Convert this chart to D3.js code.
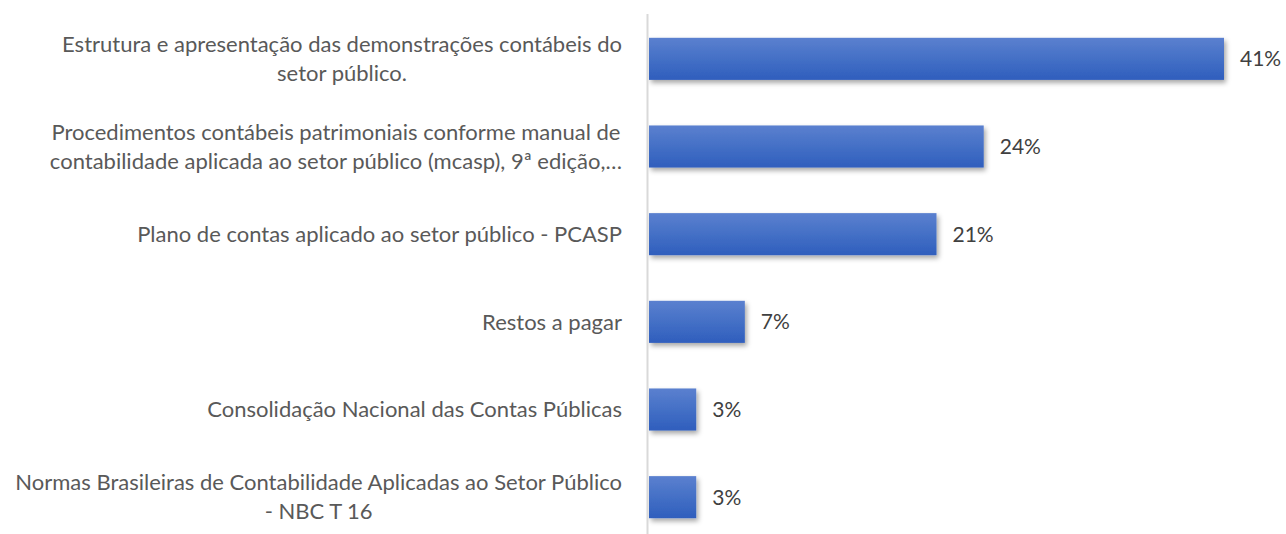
<!DOCTYPE html>
<html>
<head>
<meta charset="utf-8">
<script src="https://cdn.jsdelivr.net/npm/d3@7"></script>
<style>
  body { margin: 0; background: #fff; }
  svg { display: block; font-family: Lato, "Open Sans", sans-serif; }
</style>
</head>
<body>
<svg id="chart" width="1286" height="534"></svg>
<script>
// categories, wrapped as in the original (one entry per line)
const categories = [
    ["Estrutura e apresentação das demonstrações contábeis do", "setor público."],
    ["Procedimentos contábeis patrimoniais conforme manual de", "contabilidade aplicada ao setor público (mcasp), 9ª edição,…"],
    ["Plano de contas aplicado ao setor público - PCASP"],
    ["Restos a pagar"],
    ["Consolidação Nacional das Contas Públicas"],
    ["Normas Brasileiras de Contabilidade Aplicadas ao Setor Público", "- NBC T 16"]
];
const values = [0.414, 0.241, 0.207, 0.069, 0.034, 0.034];

const svg = d3.select("#chart");
const width = 1286, height = 534;
const x0 = 649;

const x = d3.scaleLinear().domain([0, 0.45]).range([x0, 1274]);
const y = d3.scaleBand()
    .domain(d3.range(categories.length))
    .range([15, 541])
    .paddingInner(0.52)
    .paddingOuter(0.26);

const defs = svg.append("defs");
const grad = defs.append("linearGradient")
    .attr("id", "barGrad")
    .attr("x1", 0).attr("y1", 0).attr("x2", 0).attr("y2", 1);
grad.append("stop").attr("offset", "0%").attr("stop-color", "#5b80cf");
grad.append("stop").attr("offset", "50%").attr("stop-color", "#4470c6");
grad.append("stop").attr("offset", "100%").attr("stop-color", "#2f5ebd");

const shadow = defs.append("filter")
    .attr("id", "shadow")
    .attr("x", "-10%").attr("y", "-20%")
    .attr("width", "130%").attr("height", "160%");
shadow.append("feDropShadow")
    .attr("dx", 2).attr("dy", 3)
    .attr("stdDeviation", 2.5)
    .attr("flood-color", "#000")
    .attr("flood-opacity", 0.35);

// bars
svg.selectAll(".bar")
    .data(values)
    .enter().append("rect")
    .attr("class", "bar")
    .attr("x", x0)
    .attr("y", (d, i) => y(i))
    .attr("width", d => x(d) - x0)
    .attr("height", y.bandwidth())
    .attr("fill", "url(#barGrad)")
    .attr("filter", "url(#shadow)");

// vertical axis line
svg.append("line")
    .attr("x1", x0 - 1.5).attr("x2", x0 - 1.5)
    .attr("y1", 14).attr("y2", height)
    .attr("stroke", "#d9d9d9")
    .attr("stroke-width", 2);

// value labels
svg.selectAll(".val")
    .data(values)
    .enter().append("text")
    .attr("class", "val")
    .attr("x", d => x(d) + 16)
    .attr("y", (d, i) => y(i) + y.bandwidth() / 2)
    .attr("dy", "0.35em")
    .attr("fill", "#404040")
    .style("font-size", "21px")
    .text(d => d3.format(".0%")(d));

// category labels, centered block, right aligned to the axis
const labelRight = 622;
const lineH = 29;
categories.forEach((lines, i) => {
    const cy = y(i) + y.bandwidth() / 2;
    const g = svg.append("g");
    const t = g.append("text")
        .attr("fill", "#595959")
        .attr("text-anchor", "middle")
        .style("font-size", "22px");
    lines.forEach((ln, j) => {
        t.append("tspan")
            .attr("x", 0)
            .attr("y", cy + (j - (lines.length - 1) / 2) * lineH)
            .attr("dy", "0.35em")
            .text(ln);
    });
    const w = d3.max(t.selectAll("tspan").nodes(), n => n.getComputedTextLength());
    t.selectAll("tspan").attr("x", labelRight - w / 2);
});
</script>
</body>
</html>
